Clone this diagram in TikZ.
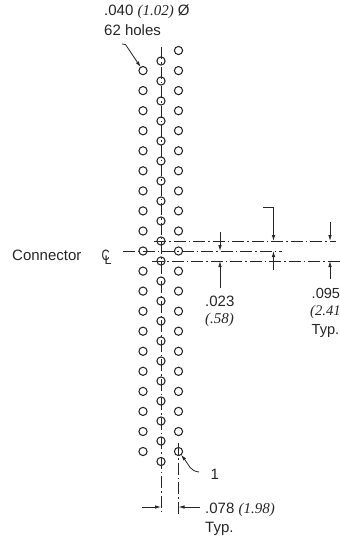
\documentclass[tikz,border=0pt]{standalone}
\usepackage{fontspec}
\setmainfont{Liberation Sans}
\newfontfamily\metricfont{Liberation Serif}
\usepackage{tkz-graph}
\usetikzlibrary{arrows.meta}

\tikzset{
  VertexStyle/.style={draw=black!85, circle, line width=1.05pt, minimum size=8.2pt, inner sep=0pt},
  label/.style={anchor=base west, inner sep=0pt, font=\fontsize{15}{15}\selectfont, text=black!85},
  small label/.style={label, font=\fontsize{14.6}{15}\selectfont},
  center line/.style={draw=black!85, line width=0.8pt, dash pattern=on 12pt off 3pt on 1.5pt off 3pt},
  dim line/.style={draw=black!85, line width=0.8pt, -{Latex[length=6pt,width=3.5pt]}}
}

\newcommand{\metric}[1]{{\metricfont\itshape #1}}

\begin{document}
\begin{tikzpicture}[x=1pt, y=-1pt]
\useasboundingbox (0,0) rectangle (340,536);

\Vertex[x=143, y=70.6, NoLabel]{L1}
\Vertex[x=143, y=90.6, NoLabel]{L2}
\Vertex[x=143, y=110.7, NoLabel]{L3}
\Vertex[x=143, y=130.7, NoLabel]{L4}
\Vertex[x=143, y=150.8, NoLabel]{L5}
\Vertex[x=143, y=170.8, NoLabel]{L6}
\Vertex[x=143, y=190.9, NoLabel]{L7}
\Vertex[x=143, y=210.9, NoLabel]{L8}
\Vertex[x=143, y=231, NoLabel]{L9}
\Vertex[x=143, y=251, NoLabel]{L10}
\Vertex[x=143, y=271.1, NoLabel]{L11}
\Vertex[x=143, y=291.1, NoLabel]{L12}
\Vertex[x=143, y=311.2, NoLabel]{L13}
\Vertex[x=143, y=331.2, NoLabel]{L14}
\Vertex[x=143, y=351.3, NoLabel]{L15}
\Vertex[x=143, y=371.3, NoLabel]{L16}
\Vertex[x=143, y=391.4, NoLabel]{L17}
\Vertex[x=143, y=411.4, NoLabel]{L18}
\Vertex[x=143, y=431.5, NoLabel]{L19}
\Vertex[x=143, y=451.5, NoLabel]{L20}

\Vertex[x=161, y=61, NoLabel]{C1}
\Vertex[x=161, y=81, NoLabel]{C2}
\Vertex[x=161, y=101, NoLabel]{C3}
\Vertex[x=161, y=121, NoLabel]{C4}
\Vertex[x=161, y=141, NoLabel]{C5}
\Vertex[x=161, y=161, NoLabel]{C6}
\Vertex[x=161, y=181, NoLabel]{C7}
\Vertex[x=161, y=201, NoLabel]{C8}
\Vertex[x=161, y=221, NoLabel]{C9}
\Vertex[x=161, y=241, NoLabel]{C10}
\Vertex[x=161, y=261, NoLabel]{C11}
\Vertex[x=161, y=281, NoLabel]{C12}
\Vertex[x=161, y=301, NoLabel]{C13}
\Vertex[x=161, y=321, NoLabel]{C14}
\Vertex[x=161, y=341, NoLabel]{C15}
\Vertex[x=161, y=361, NoLabel]{C16}
\Vertex[x=161, y=381, NoLabel]{C17}
\Vertex[x=161, y=401, NoLabel]{C18}
\Vertex[x=161, y=421, NoLabel]{C19}
\Vertex[x=161, y=441, NoLabel]{C20}
\Vertex[x=161, y=461.5, NoLabel]{C21}

\Vertex[x=178.5, y=50.5, NoLabel]{R1}
\Vertex[x=178.5, y=70.6, NoLabel]{R2}
\Vertex[x=178.5, y=90.6, NoLabel]{R3}
\Vertex[x=178.5, y=110.7, NoLabel]{R4}
\Vertex[x=178.5, y=130.7, NoLabel]{R5}
\Vertex[x=178.5, y=150.8, NoLabel]{R6}
\Vertex[x=178.5, y=170.8, NoLabel]{R7}
\Vertex[x=178.5, y=190.9, NoLabel]{R8}
\Vertex[x=178.5, y=210.9, NoLabel]{R9}
\Vertex[x=178.5, y=231, NoLabel]{R10}
\Vertex[x=178.5, y=251, NoLabel]{R11}
\Vertex[x=178.5, y=271.1, NoLabel]{R12}
\Vertex[x=178.5, y=291.1, NoLabel]{R13}
\Vertex[x=178.5, y=311.2, NoLabel]{R14}
\Vertex[x=178.5, y=331.2, NoLabel]{R15}
\Vertex[x=178.5, y=351.3, NoLabel]{R16}
\Vertex[x=178.5, y=371.3, NoLabel]{R17}
\Vertex[x=178.5, y=391.4, NoLabel]{R18}
\Vertex[x=178.5, y=411.4, NoLabel]{R19}
\Vertex[x=178.5, y=431.5, NoLabel]{R20}
\Vertex[x=178.5, y=451.5, NoLabel]{R21}

\coordinate (axisTop) at (161,47);
\coordinate (axisBottom) at (161,515);
\coordinate (axisRightTop) at (178.5,443);
\coordinate (axisRightBottom) at (178.5,515);
\draw[center line] (axisTop) -- (axisBottom);
\draw[center line] (axisRightTop) -- (axisRightBottom);

\coordinate (upperStart) at (154,241);
\coordinate (upperEnd) at (336,241);
\coordinate (midStart) at (123,251);
\coordinate (midEnd) at (282,251);
\coordinate (lowerStart) at (152,261);
\coordinate (lowerEnd) at (340,261);
\draw[center line] (upperStart) -- (upperEnd);
\draw[center line] (midStart) -- (midEnd);
\draw[center line] (lowerStart) -- (lowerEnd);

\coordinate (pitchTop) at (220,232);
\coordinate (pitchTopTip) at (220,251);
\coordinate (pitchBottom) at (220,288);
\coordinate (pitchBottomTip) at (220,261);
\draw[dim line] (pitchTop) -- (pitchTopTip);
\draw[dim line] (pitchBottom) -- (pitchBottomTip);

\coordinate (rowElbow) at (263,207);
\coordinate (rowTopTip) at (273.5,241);
\coordinate (rowBottom) at (273.5,270);
\coordinate (rowBottomTip) at (273.5,251);
\draw[dim line] (rowElbow) -| (rowTopTip);
\draw[dim line] (rowBottom) -- (rowBottomTip);

\coordinate (spanTop) at (330,222);
\coordinate (spanTopTip) at (330,241);
\coordinate (spanBottom) at (330,279);
\coordinate (spanBottomTip) at (330,261);
\draw[dim line] (spanTop) -- (spanTopTip);
\draw[dim line] (spanBottom) -- (spanBottomTip);

\coordinate (widthLeft) at (142,507);
\coordinate (widthLeftTip) at (161,507);
\coordinate (widthRight) at (200,507);
\coordinate (widthRightTip) at (178.5,507);
\draw[dim line] (widthLeft) -- (widthLeftTip);
\draw[dim line] (widthRight) -- (widthRightTip);

\coordinate (holeLeader) at (122,44);
\coordinate (holeBend) at (125.5,44.5);
\draw[dim line] (holeLeader) -- (holeBend) -- (L1);

\coordinate (pinLeader) at (199,472);
\draw[dim line] (pinLeader) .. controls (190,471) and (189,465) .. (R21);

\node[label] (holeSize) at (104,15.5) {.040 \metric{(1.02)} Ø};
\node[label] (holeCount) at (104,35) {62 holes};
\node[label] (connector) at (12,260) {Connector};
\node[label, xscale=0.75] (centerC) at (101.5,260) {C};
\node[label, font=\fontsize{12.5}{13}\selectfont] (centerL) at (104.5,264) {L};
\node[label] (pitchValue) at (205,306.5) {.023};
\node[label] (pitchMetric) at (205,323) {\metric{(.58)}};
\node[small label] (spanValue) at (311.5,298) {.095};
\node[small label] (spanMetric) at (310,315) {\metric{(2.41}};
\node[small label] (spanTyp) at (311.5,334) {Typ.};
\node[label] (pinOne) at (210.5,479) {1};
\node[label] (widthValue) at (205,513) {.078 \metric{(1.98)}};
\node[label] (widthTyp) at (205,532) {Typ.};

\end{tikzpicture}
\end{document}
